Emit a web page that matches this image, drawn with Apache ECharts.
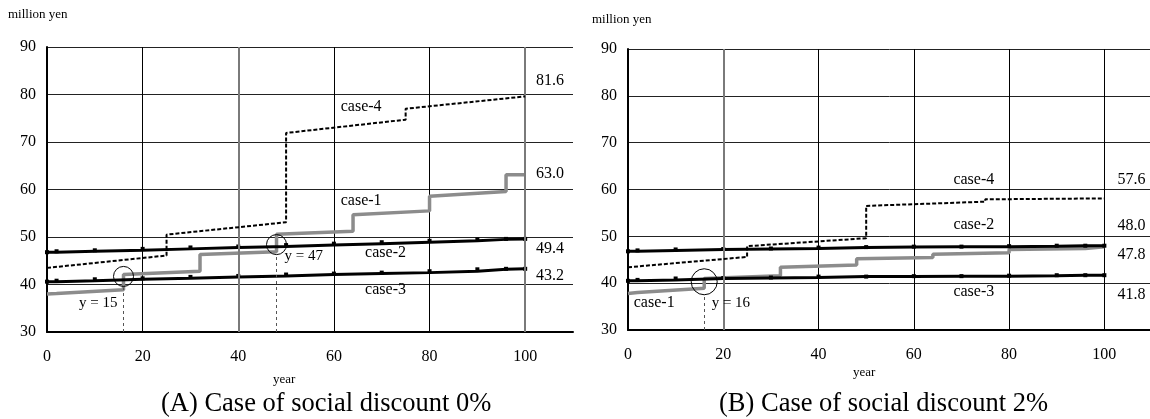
<!DOCTYPE html>
<html><head><meta charset="utf-8">
<script src="https://cdn.jsdelivr.net/npm/echarts@6/dist/echarts.min.js"></script>
<style>html,body{margin:0;padding:0;background:#fff}#c{width:1150px;height:419px}</style>
</head><body><div id="c"></div><script>
// ---- data ----
const caseNames = ['case-1', 'case-2', 'case-3', 'case-4'];
// (A) social discount 0%
const case1A = [[0,38.0],[2,38.1],[16,38.9],[16,42.1],[32,42.8],[32,46.3],[48,46.9],[48,50.6],[64,51.2],[64,54.7],[80,55.5],[80,58.6],[96,59.6],[96,63.1],[100,63.1]];
const case2A = [[0,46.8],[2,47.0],[10,47.2],[20,47.5],[30,47.8],[40,48.0],[50,48.3],[60,48.6],[70,48.9],[80,49.2],[90,49.5],[96,49.6],[100,49.6]];
const case3A = [[0,40.6],[2,40.8],[10,41.1],[20,41.3],[30,41.6],[40,41.8],[50,42.1],[60,42.3],[70,42.5],[80,42.8],[90,43.2],[96,43.3],[100,43.3]];
const case4A = [[0,43.5],[25,46.1],[25,50.5],[50,53.1],[50,71.9],[75,74.7],[75,77.0],[100,79.6]];
const endValuesA = ['63.0', '49.4', '43.2', '81.6'];
const crossYearsA = [16, 48];
const crossValuesA = [41.7, 48.4];
const crossLabelsA = ['y = 15', 'y = 47'];
// (B) social discount 2%
const case1B = [[0,37.8],[2,38.0],[16,38.9],[16,41.0],[32,41.6],[32,43.4],[48,43.9],[48,45.2],[64,45.5],[64,46.2],[80,46.5],[80,47.2],[96,47.4],[96,47.8],[100,47.8]];
const case2B = [[0,46.8],[2,47.0],[10,47.2],[20,47.3],[30,47.4],[40,47.6],[50,47.7],[60,47.8],[70,47.8],[80,47.9],[90,48.0],[96,48.0],[100,48.0]];
const case3B = [[0,40.5],[2,40.7],[10,41.0],[20,41.1],[30,41.2],[40,41.4],[50,41.4],[60,41.5],[70,41.5],[80,41.6],[90,41.7],[96,41.7],[100,41.7]];
const case4B = [[0,43.4],[25,45.6],[25,47.9],[50,49.6],[50,56.5],[75,57.4],[75,57.9],[100,58.1]];
const endValuesB = ['47.8', '48.0', '41.8', '57.6'];
const crossYearsB = [16];
const crossValuesB = [40.3];
const crossLabelsB = ['y = 16'];
// axes
const xMin = 0, xMax = 110, xStep = 20;
const yMin = 30, yMax = 90, yStep = 10;
const yUnit = 'million yen';
const xName = 'year';
const captions = ['(A) Case of social discount 0%', '(B) Case of social discount 2%'];

// ---- chart ----
const FONT = "'Liberation Serif','Times New Roman',serif";
const chart = echarts.init(document.getElementById('c'), null, {renderer: 'canvas'});

function xAxisDef(gi) {
  return {
    type: 'value', gridIndex: gi, min: xMin, max: xMax, interval: xStep,
    axisLine: {show: true, onZero: false, lineStyle: {color: '#000', width: 2}},
    axisTick: {show: false},
    axisLabel: {showMaxLabel: false, margin: 17, color: '#000', fontFamily: FONT, fontSize: 16},
    splitLine: {show: true, showMinLine: false, showMaxLine: false, lineStyle: {color: '#000', width: 1}}
  };
}
function yAxisDef(gi) {
  return {
    type: 'value', gridIndex: gi, min: yMin, max: yMax, interval: yStep,
    axisLine: {show: true, lineStyle: {color: '#000', width: 2}},
    axisTick: {show: false},
    axisLabel: {margin: 11, color: '#000', fontFamily: FONT, fontSize: 16},
    splitLine: {show: true, showMinLine: false, lineStyle: {color: '#222', width: 1}}
  };
}
function blackStep(name, data, gi) {
  return {
    name, type: 'line', xAxisIndex: gi, yAxisIndex: gi, data, step: 'end',
    symbol: 'rect', symbolSize: 4, showSymbol: true,
    itemStyle: {color: '#000'}, lineStyle: {color: '#000', width: 3}, z: 4, animation: false
  };
}
function grayLine(name, data, gi) {
  return {
    name, type: 'line', xAxisIndex: gi, yAxisIndex: gi, data, symbol: 'none',
    lineStyle: {color: '#8c8c8c', width: 3.5}, z: 3, animation: false
  };
}
function dashLine(name, data, gi) {
  return {
    name, type: 'line', xAxisIndex: gi, yAxisIndex: gi, data, symbol: 'none',
    lineStyle: {color: '#000', width: 2, type: [4, 2]}, z: 5, animation: false
  };
}
function textSeries(gi, items) {
  return {
    type: 'scatter', xAxisIndex: gi, yAxisIndex: gi, symbolSize: 1, silent: true,
    itemStyle: {color: 'rgba(0,0,0,0)', opacity: 1}, z: 6, animation: false,
    label: {show: true, position: 'inside', color: '#000', opacity: 1, textBorderWidth: 0, textBorderColor: 'transparent',
      fontFamily: FONT, fontSize: 16, formatter: p => p.data.t},
    data: items.map(it => ({value: [it[0], it[1]], t: it[2], label: it[3] || {}}))
  };
}
function circleSeries(gi, xs, ys, size) {
  return {
    type: 'scatter', xAxisIndex: gi, yAxisIndex: gi, symbol: 'circle', symbolSize: size, silent: true,
    itemStyle: {color: 'rgba(0,0,0,0)', borderColor: '#000', borderWidth: 1, opacity: 1}, z: 7, animation: false,
    data: xs.map((x, i) => [x, ys[i]]),
    markLine: {
      silent: true, symbol: 'none', animation: false,
      lineStyle: {color: '#555', width: 1, type: [3, 3]}, label: {show: false},
      data: xs.map((x, i) => [{coord: [x, yMin]}, {coord: [x, ys[i] - size / 2 / 4.7 - 0.2]}])
    }
  };
}
function gridAccent(gi, xs) {
  return {
    type: 'line', xAxisIndex: gi, yAxisIndex: gi, data: [], silent: true,
    markLine: {silent: true, symbol: 'none', animation: false, label: {show: false},
      lineStyle: {color: '#7a7a7a', width: 2, type: 'solid'},
      data: xs.map(x => ({xAxis: x}))}
  };
}

const option = {
  backgroundColor: '#fff',
  animation: false,
  grid: [
    {left: 47, top: 47, width: 526, height: 285, containLabel: false, outerBoundsMode: 'none'},
    {left: 628, top: 49, width: 524, height: 281, containLabel: false, outerBoundsMode: 'none'}
  ],
  xAxis: [xAxisDef(0), xAxisDef(1)],
  yAxis: [yAxisDef(0), yAxisDef(1)],
  graphic: [
    {type: 'text', left: 8, top: 8, style: {text: yUnit, font: `13px ${FONT}`, fill: '#000'}},
    {type: 'text', left: 592, top: 13, style: {text: yUnit, font: `13px ${FONT}`, fill: '#000'}},
    {type: 'text', left: 273, top: 373, style: {text: xName, font: `13px ${FONT}`, fill: '#000'}},
    {type: 'text', left: 853, top: 366, style: {text: xName, font: `13px ${FONT}`, fill: '#000'}},
    {type: 'text', left: 161, top: 391, style: {text: captions[0], font: `26.5px ${FONT}`, fill: '#000'}},
    {type: 'text', left: 719, top: 391, style: {text: captions[1], font: `26.5px ${FONT}`, fill: '#000'}}
  ],
  series: [
    gridAccent(0, [40, 100]),
    gridAccent(1, [20]),
    grayLine(caseNames[0], case1A, 0),
    blackStep(caseNames[1], case2A, 0),
    blackStep(caseNames[2], case3A, 0),
    dashLine(caseNames[3], case4A, 0),
    grayLine(caseNames[0], case1B, 1),
    blackStep(caseNames[1], case2B, 1),
    blackStep(caseNames[2], case3B, 1),
    dashLine(caseNames[3], case4B, 1),
    circleSeries(0, crossYearsA, crossValuesA, 20),
    circleSeries(1, crossYearsB, crossValuesB, 26),
    textSeries(0, [
      [105.2, 82.8, endValuesA[3]], [105.2, 63.3, endValuesA[0]],
      [105.2, 47.5, endValuesA[1]], [105.2, 41.8, endValuesA[2]],
      [65.7, 77.4, caseNames[3]], [65.7, 57.6, caseNames[0]],
      [70.8, 46.7, caseNames[1]], [70.8, 38.9, caseNames[2]],
      [10.7, 36.0, crossLabelsA[0], {fontSize: 15}], [53.7, 45.9, crossLabelsA[1], {fontSize: 15}]
    ]),
    textSeries(1, [
      [105.7, 62.0, endValuesB[3]], [105.7, 52.2, endValuesB[1]],
      [105.7, 46.0, endValuesB[0]], [105.7, 37.5, endValuesB[2]],
      [72.6, 62.0, caseNames[3]], [72.6, 52.4, caseNames[1]],
      [72.6, 38.2, caseNames[2]], [5.5, 35.8, caseNames[0]],
      [21.6, 35.8, crossLabelsB[0], {fontSize: 15}]
    ])
  ]
};
chart.setOption(option);
</script></body></html>
